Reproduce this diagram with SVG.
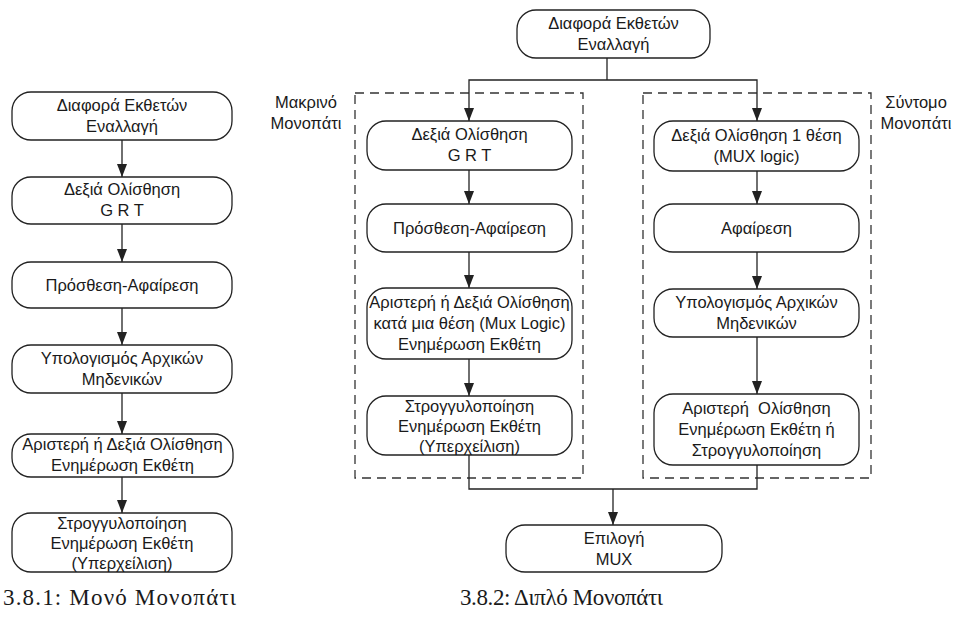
<svg xmlns="http://www.w3.org/2000/svg" width="955" height="619" viewBox="0 0 955 619">
  <style>
    .box { fill: #ffffff; stroke: #222222; stroke-width: 1.3; }
    .lbl { font-family: "Liberation Sans", Arial, sans-serif; font-size: 16.5px; fill: #1a1a1a; text-anchor: middle; }
    .cap { font-family: "Liberation Serif", "DejaVu Serif", serif; font-size: 23px; fill: #1a1a1a; }
    .wire { fill: none; stroke: #222222; stroke-width: 1.3; }
    .dash { fill: none; stroke: #333333; stroke-width: 1.3; stroke-dasharray: 9 6; }
  </style>
  <defs>
    <marker id="arrowDown" markerWidth="13" markerHeight="10" refX="13" refY="5" orient="auto" markerUnits="userSpaceOnUse" viewBox="0 0 13 10">
      <path d="M0,0 L13,5 L0,10 Z" fill="#222222"/>
    </marker>
  </defs>
  <rect width="955" height="619" fill="#ffffff"/>

  <!-- Single path flow -->
  <g id="s1"><rect class="box" x="12" y="92" width="220" height="48" rx="19"/>
    <text class="lbl" x="122" y="110.5">Διαφορά Εκθετών</text><text class="lbl" x="122" y="131.5">Εναλλαγή</text></g>
  <g id="s2"><rect class="box" x="12" y="177" width="220" height="47" rx="19"/>
    <text class="lbl" x="122" y="195">Δεξιά Ολίσθηση</text><text class="lbl" x="122" y="216">G R T</text></g>
  <g id="s3"><rect class="box" x="12" y="262" width="220" height="46" rx="19"/>
    <text class="lbl" x="122" y="290.5">Πρόσθεση-Αφαίρεση</text></g>
  <g id="s4"><rect class="box" x="12" y="345" width="220" height="48" rx="19"/>
    <text class="lbl" x="122" y="363.5">Υπολογισμός Αρχικών</text><text class="lbl" x="122" y="384.5">Μηδενικών</text></g>
  <g id="s5"><rect class="box" x="12" y="434" width="221" height="43" rx="19"/>
    <text class="lbl" x="122.5" y="450">Αριστερή ή Δεξιά Ολίσθηση</text><text class="lbl" x="122.5" y="471">Ενημέρωση Εκθέτη</text></g>
  <g id="s6"><rect class="box" x="12" y="513" width="220" height="59" rx="19"/>
    <text class="lbl" x="122" y="528.5">Στρογγυλοποίηση</text><text class="lbl" x="122" y="548.5">Ενημέρωση Εκθέτη</text><text class="lbl" x="122" y="568.5">(Υπερχείλιση)</text></g>

  <!-- Dual path flow -->
  <g id="d-top"><rect class="box" x="517" y="10" width="193" height="48" rx="19"/>
    <text class="lbl" x="613.5" y="28.5">Διαφορά Εκθετών</text><text class="lbl" x="613.5" y="49.5">Εναλλαγή</text></g>

  <g id="far-path">
    <rect class="dash" x="355" y="93" width="228" height="385"/>
    <text class="lbl" x="306" y="108">Μακρινό</text><text class="lbl" x="306" y="129">Μονοπάτι</text>
  </g>
  <g id="near-path">
    <rect class="dash" x="643" y="93" width="228" height="385"/>
    <text class="lbl" x="916" y="108">Σύντομο</text><text class="lbl" x="916" y="129">Μονοπάτι</text>
  </g>

  <g id="f1"><rect class="box" x="367" y="121" width="205" height="49" rx="19"/>
    <text class="lbl" x="469.5" y="140">Δεξιά Ολίσθηση</text><text class="lbl" x="469.5" y="161">G R T</text></g>
  <g id="f2"><rect class="box" x="367" y="204" width="205" height="48" rx="19"/>
    <text class="lbl" x="469.5" y="233.5">Πρόσθεση-Αφαίρεση</text></g>
  <g id="f3"><rect class="box" x="367" y="288" width="205" height="71" rx="19"/>
    <text class="lbl" x="469.5" y="308">Αριστερή ή Δεξιά Ολίσθηση</text><text class="lbl" x="469.5" y="329">κατά μια θέση (Mux Logic)</text><text class="lbl" x="469.5" y="350">Ενημέρωση Εκθέτη</text></g>
  <g id="f4"><rect class="box" x="367" y="396" width="205" height="59" rx="19"/>
    <text class="lbl" x="469.5" y="411.5">Στρογγυλοποίηση</text><text class="lbl" x="469.5" y="431.5">Ενημέρωση Εκθέτη</text><text class="lbl" x="469.5" y="451.5">(Υπερχείλιση)</text></g>

  <g id="n1"><rect class="box" x="654" y="121" width="205" height="50" rx="19"/>
    <text class="lbl" x="756.5" y="140.5">Δεξιά Ολίσθηση 1 θέση</text><text class="lbl" x="756.5" y="161.5">(MUX logic)</text></g>
  <g id="n2"><rect class="box" x="654" y="204" width="205" height="48" rx="19"/>
    <text class="lbl" x="756.5" y="233.5">Αφαίρεση</text></g>
  <g id="n3"><rect class="box" x="654" y="289" width="205" height="48" rx="19"/>
    <text class="lbl" x="756.5" y="307.5">Υπολογισμός Αρχικών</text><text class="lbl" x="756.5" y="328.5">Μηδενικών</text></g>
  <g id="n4"><rect class="box" x="654" y="394" width="205" height="71" rx="19"/>
    <text class="lbl" x="756.5" y="414" xml:space="preserve">Αριστερή  Ολίσθηση</text><text class="lbl" x="756.5" y="435">Ενημέρωση Εκθέτη ή</text><text class="lbl" x="756.5" y="456">Στρογγυλοποίηση</text></g>

  <g id="mux"><rect class="box" x="506" y="525" width="216" height="47" rx="19"/>
    <text class="lbl" x="614" y="543.5">Επιλογή</text><text class="lbl" x="614" y="564.5">MUX</text></g>

  <!-- Connectors -->
  <g id="connectors">
    <path class="wire" d="M122,140 V177" marker-end="url(#arrowDown)"/>
    <path class="wire" d="M122,224 V262" marker-end="url(#arrowDown)"/>
    <path class="wire" d="M122,308 V345" marker-end="url(#arrowDown)"/>
    <path class="wire" d="M122,393 V434" marker-end="url(#arrowDown)"/>
    <path class="wire" d="M122,477 V513" marker-end="url(#arrowDown)"/>

    <path class="wire" d="M607,58 V80"/>
    <path class="wire" d="M607,80 H469 V121" marker-end="url(#arrowDown)"/>
    <path class="wire" d="M607,80 H757 V121" marker-end="url(#arrowDown)"/>

    <path class="wire" d="M469,170 V204" marker-end="url(#arrowDown)"/>
    <path class="wire" d="M469,252 V288" marker-end="url(#arrowDown)"/>
    <path class="wire" d="M469,359 V396" marker-end="url(#arrowDown)"/>

    <path class="wire" d="M757,171 V204" marker-end="url(#arrowDown)"/>
    <path class="wire" d="M757,252 V289" marker-end="url(#arrowDown)"/>
    <path class="wire" d="M757,337 V394" marker-end="url(#arrowDown)"/>

    <path class="wire" d="M469,455 V489 H757 V465"/>
    <path class="wire" d="M613,489 V525" marker-end="url(#arrowDown)"/>
  </g>

  <!-- Captions -->
  <text class="cap" x="3" y="605" textLength="233" lengthAdjust="spacing">3.8.1: Μονό Μονοπάτι</text>
  <text class="cap" x="460" y="605" textLength="203" lengthAdjust="spacing">3.8.2: Διπλό Μονοπάτι</text>
</svg>
